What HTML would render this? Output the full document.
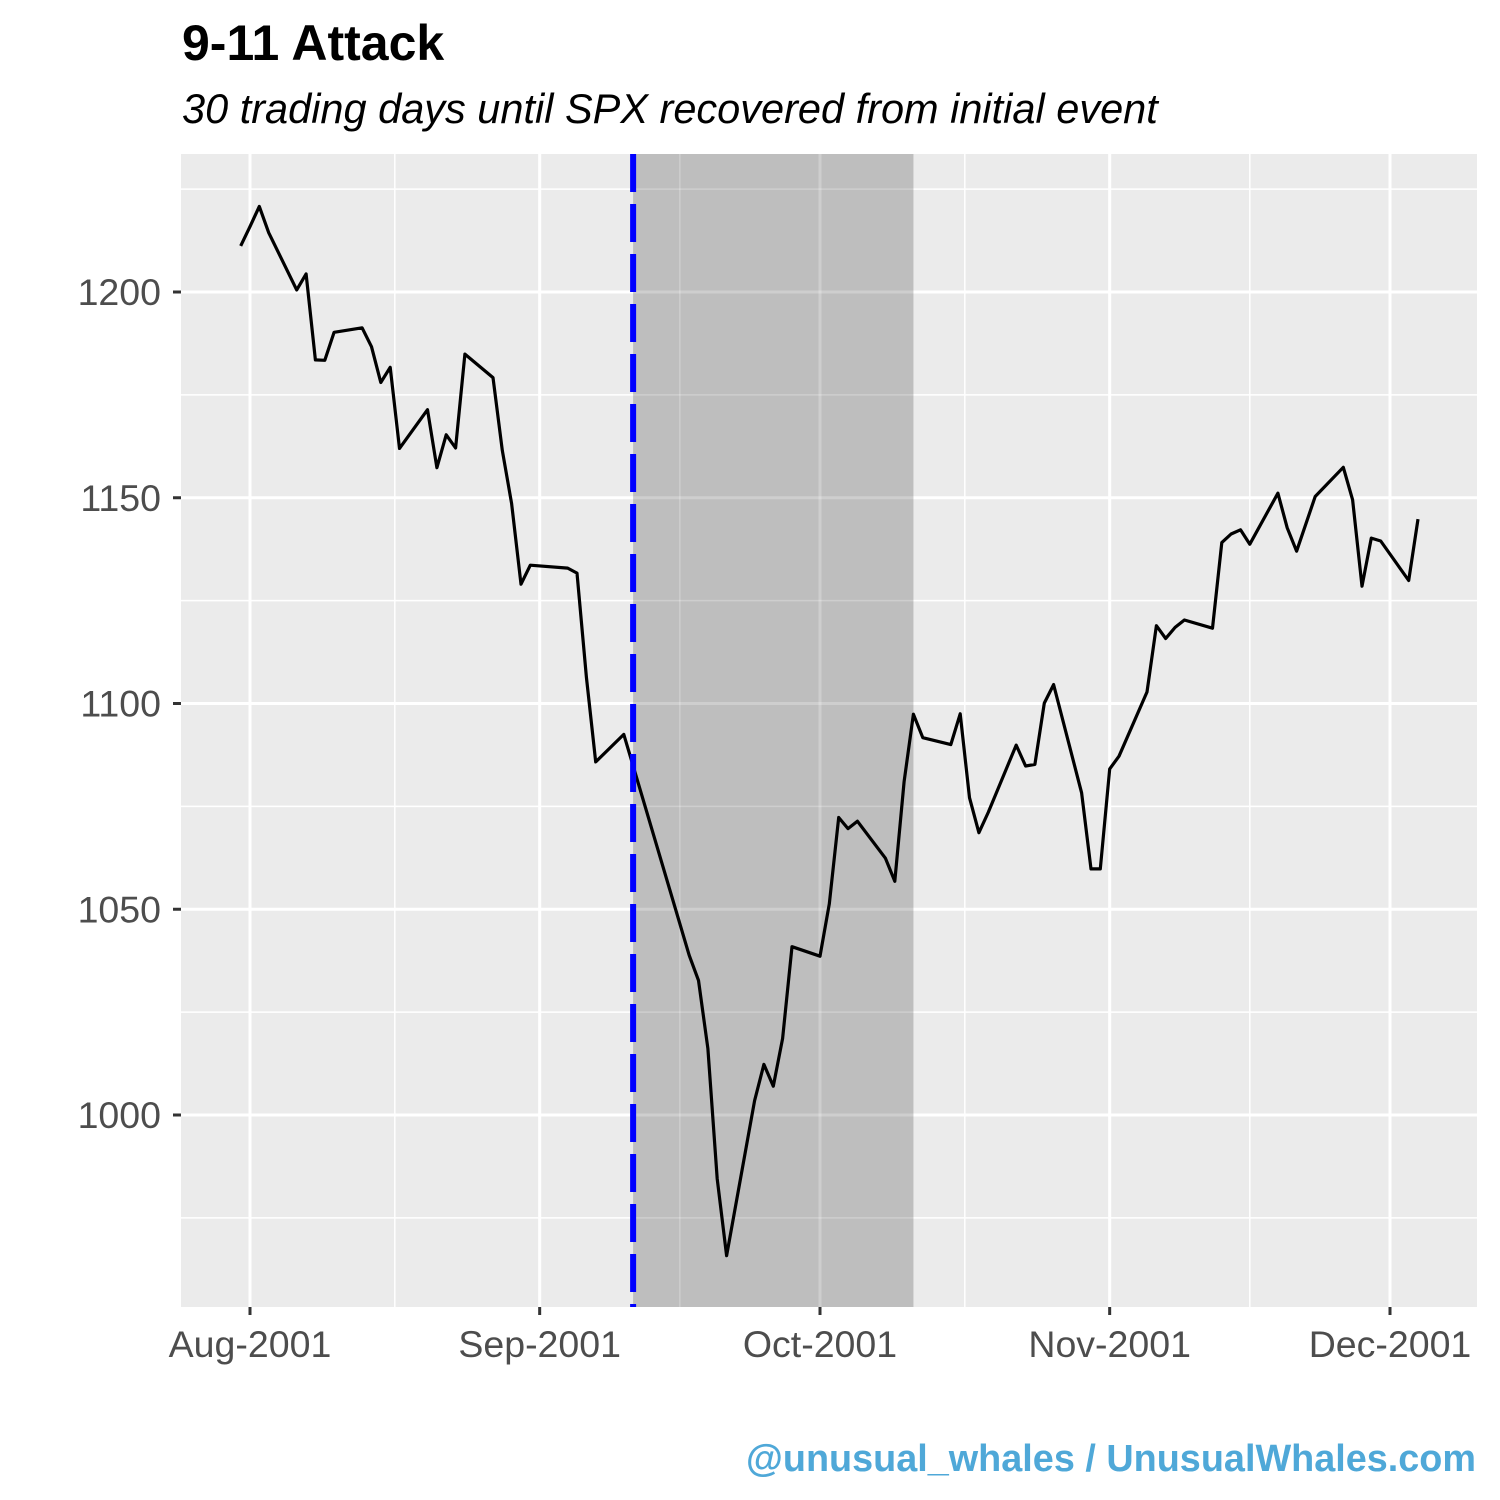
<!DOCTYPE html>
<html><head><meta charset="utf-8"><style>
html,body{margin:0;padding:0;background:#fff;}
svg{display:block;font-family:"Liberation Sans",Arial,sans-serif;}
</style></head><body>
<svg id="chart" width="1500" height="1500" viewBox="0 0 1500 1500">
<text x="182" y="60" font-size="50" font-weight="bold" fill="#000">9-11 Attack</text>
<text x="182" y="123" font-size="41.5" font-style="italic" fill="#000">30 trading days until SPX recovered from initial event</text>
<rect x="181" y="154" width="1296" height="1153" fill="#ebebeb"/>
<g id="grid"></g>
<rect id="shade" fill="#bebebe"/>
<g id="grid2"></g>
<polyline id="line" fill="none" stroke="#000" stroke-width="3.2" stroke-linejoin="round"/>
<line id="event" stroke="#0000ff" stroke-width="6" stroke-dasharray="38,12"/>
<g id="axes"></g>
<text x="1476" y="1471" font-size="37.8" font-weight="bold" fill="#4fa8d8" text-anchor="end">@unusual_whales / UnusualWhales.com</text>
</svg>
<script>
const dates=["2001-07-31","2001-08-01","2001-08-02","2001-08-03","2001-08-06","2001-08-07","2001-08-08","2001-08-09","2001-08-10","2001-08-13","2001-08-14","2001-08-15","2001-08-16","2001-08-17","2001-08-20","2001-08-21","2001-08-22","2001-08-23","2001-08-24","2001-08-27","2001-08-28","2001-08-29","2001-08-30","2001-08-31","2001-09-04","2001-09-05","2001-09-06","2001-09-07","2001-09-10","2001-09-17","2001-09-18","2001-09-19","2001-09-20","2001-09-21","2001-09-24","2001-09-25","2001-09-26","2001-09-27","2001-09-28","2001-10-01","2001-10-02","2001-10-03","2001-10-04","2001-10-05","2001-10-08","2001-10-09","2001-10-10","2001-10-11","2001-10-12","2001-10-15","2001-10-16","2001-10-17","2001-10-18","2001-10-19","2001-10-22","2001-10-23","2001-10-24","2001-10-25","2001-10-26","2001-10-29","2001-10-30","2001-10-31","2001-11-01","2001-11-02","2001-11-05","2001-11-06","2001-11-07","2001-11-08","2001-11-09","2001-11-12","2001-11-13","2001-11-14","2001-11-15","2001-11-16","2001-11-19","2001-11-20","2001-11-21","2001-11-23","2001-11-26","2001-11-27","2001-11-28","2001-11-29","2001-11-30","2001-12-03","2001-12-04"];
const closes=[1211.2,1215.9,1220.8,1214.4,1200.5,1204.4,1183.5,1183.4,1190.2,1191.3,1186.7,1178.0,1181.7,1162.0,1171.4,1157.3,1165.3,1162.1,1184.9,1179.2,1161.5,1148.6,1129.0,1133.6,1132.9,1131.7,1106.4,1085.8,1092.5,1038.8,1032.7,1016.1,984.5,965.8,1003.5,1012.3,1007.0,1018.6,1040.9,1038.6,1051.3,1072.3,1069.6,1071.4,1062.4,1056.8,1081.0,1097.4,1091.7,1090.0,1097.5,1077.1,1068.6,1073.5,1089.9,1084.8,1085.2,1100.1,1104.6,1078.3,1059.8,1059.8,1084.1,1087.2,1102.8,1118.9,1115.8,1118.5,1120.3,1118.3,1139.1,1141.2,1142.2,1138.7,1151.1,1142.7,1137.0,1150.3,1157.4,1149.5,1128.5,1140.2,1139.5,1129.9,1144.8];
const xTickDates=["2001-08-01","2001-09-01","2001-10-01","2001-11-01","2001-12-01"];
const xTickLabels=["Aug-2001","Sep-2001","Oct-2001","Nov-2001","Dec-2001"];
const xMinorDates=["2001-08-16T12:00","2001-09-16","2001-10-16T12:00","2001-11-16"];
const yTicks=[1000,1050,1100,1150,1200];
const yMinor=[975,1025,1075,1125,1175,1225];
const eventDate="2001-09-11";
const recoveryDate="2001-10-11";

const NS="http://www.w3.org/2000/svg";
const P={l:181,r:1477,t:154,b:1307};
const d0=Date.parse("2001-08-01T00:00Z"),dayPx=(1390-250)/122;
function X(d){const s=d.length>10?d+"Z":d+"T00:00Z";return 250+(Date.parse(s)-d0)/864e5*dayPx;}
function Y(v){return 292+(1200-v)*(1115-292)/200;}
function el(t,a,p){const e=document.createElementNS(NS,t);for(const k in a)e.setAttribute(k,a[k]);p.appendChild(e);return e;}
const g=document.getElementById('grid'),g2=document.getElementById('grid2'),ax=document.getElementById('axes');
function grids(par,col){
 yMinor.forEach(v=>{if(Y(v)>P.t&&Y(v)<P.b){const e=el('line',{x1:P.l,x2:P.r,y1:Y(v),y2:Y(v),stroke:col,'stroke-width':1.5},par);

}});
 xMinorDates.forEach(d=>{const e=el('line',{x1:X(d),x2:X(d),y1:P.t,y2:P.b,stroke:col,'stroke-width':1.5},par);

});
 yTicks.forEach(v=>{const e=el('line',{x1:P.l,x2:P.r,y1:Y(v),y2:Y(v),stroke:col,'stroke-width':3},par);

});
 xTickDates.forEach(d=>{const e=el('line',{x1:X(d),x2:X(d),y1:P.t,y2:P.b,stroke:col,'stroke-width':3},par);

});
}
grids(g,'#ffffff');
const sh=document.getElementById('shade');
sh.setAttribute('x',X(eventDate));sh.setAttribute('width',X(recoveryDate)-X(eventDate));
sh.setAttribute('y',P.t);sh.setAttribute('height',P.b-P.t);
grids(g2,'rgba(255,255,255,0.25)');
document.getElementById('line').setAttribute('points',dates.map((d,i)=>X(d).toFixed(1)+','+Y(closes[i]).toFixed(1)).join(' '));
const ev=document.getElementById('event');
ev.setAttribute('x1',X(eventDate));ev.setAttribute('x2',X(eventDate));ev.setAttribute('y1',P.t);ev.setAttribute('y2',P.b);
yTicks.forEach(v=>{
 const t=el('line',{x1:P.l-8,x2:P.l,y1:Y(v),y2:Y(v),stroke:'#333','stroke-width':3},ax);
 
 
 const l=el('text',{x:P.l-20,y:Y(v)+13,'font-size':37.5,fill:'#4d4d4d','text-anchor':'end'},ax);l.textContent=v;
 
 
});
xTickDates.forEach((d,i)=>{
 const t=el('line',{x1:X(d),x2:X(d),y1:P.b,y2:P.b+8,stroke:'#333','stroke-width':3},ax);
 
 
 const l=el('text',{x:X(d),y:P.b+50,'font-size':37.5,fill:'#4d4d4d','text-anchor':'middle'},ax);l.textContent=xTickLabels[i];
 
 
});
</script>
</body></html>
